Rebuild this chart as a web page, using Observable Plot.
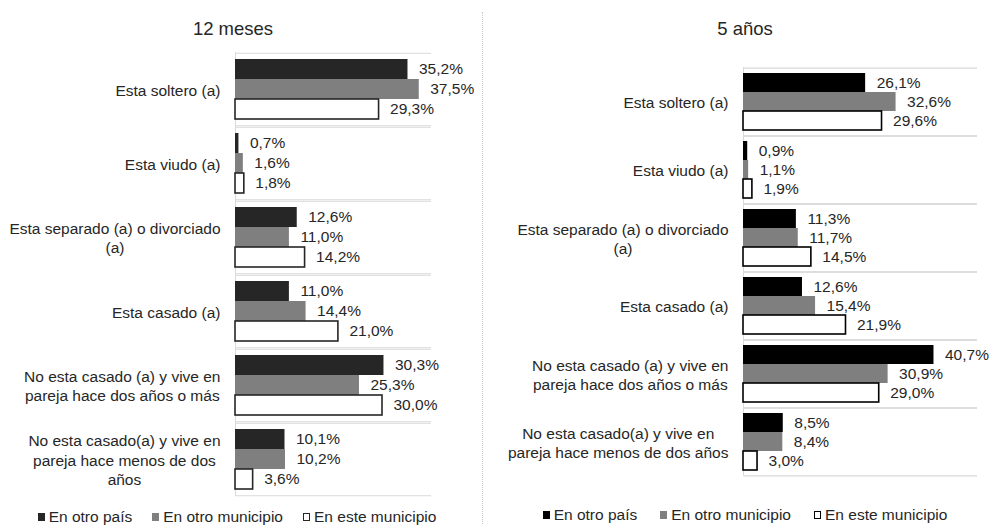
<!DOCTYPE html>
<html>
<head>
<meta charset="utf-8">
<script src="https://cdn.jsdelivr.net/npm/d3@7"></script>
<script src="https://cdn.jsdelivr.net/npm/@observablehq/plot@0.6"></script>
<style>
  html, body { margin: 0; padding: 0; background: #fff; }
  #wrap { position: relative; width: 990px; height: 525px; overflow: hidden; background: #fff;
          font-family: "Liberation Sans", Arial, sans-serif; color: #262626; }
  .title { position: absolute; width: 200px; text-align: center; font-size: 18.5px; line-height: 20px; }
  .panel { position: absolute; top: 0; }
  .legend { position: absolute; display: flex; justify-content: center; font-size: 15.5px; line-height: 17px; white-space: nowrap; }
  .legend .item { display: flex; align-items: center; }
  .legend .sw { display: inline-block; width: 7px; height: 8px; margin-right: 4px; box-sizing: border-box; }
  #divider { position: absolute; left: 482px; top: 12px; height: 520px; border-left: 1px dotted #c8c8c8; }
</style>
</head>
<body>
<div id="wrap">
  <div class="title" style="left:133px; top:19px;">12 meses</div>
  <div class="title" style="left:645px; top:19px;">5 años</div>
  <div id="divider"></div>
  <div class="panel" id="left" style="left:0px;"></div>
  <div class="panel" id="right" style="left:495px;"></div>
  <div class="legend" id="legLeft" style="left:0px; width:474px; top:508px; gap:20px;"></div>
  <div class="legend" id="legRight" style="left:495px; width:500px; top:506px; gap:23px;"></div>
</div>
<script>
// ---- data ----
const series = ["En otro país", "En otro municipio", "En este municipio"];
const categories = [
  "Esta soltero (a)",
  "Esta viudo (a)",
  "Esta separado (a) o divorciado (a)",
  "Esta casado (a)",
  "No esta casado (a) y vive en pareja hace dos años o más",
  "No esta casado(a) y vive en pareja hace menos de dos años"
];
const labels12 = [
  "Esta soltero (a)",
  "Esta viudo (a)",
  "Esta separado (a) o divorciado\n(a)",
  "Esta casado (a)",
  "No esta casado (a) y vive en\npareja hace dos años o más",
  "No esta casado(a) y vive en\npareja hace menos de dos\naños"
];
const labels5 = [
  "Esta soltero (a)",
  "Esta viudo (a)",
  "Esta separado (a) o divorciado\n(a)",
  "Esta casado (a)",
  "No esta casado (a) y vive en\npareja hace dos años o más",
  "No esta casado(a) y vive en\npareja hace menos de dos años"
];
// 12 meses
const otroPais12 = [35.2, 0.7, 12.6, 11.0, 30.3, 10.1];
const otroMunicipio12 = [37.5, 1.6, 11.0, 14.4, 25.3, 10.2];
const esteMunicipio12 = [29.3, 1.8, 14.2, 21.0, 30.0, 3.6];
// 5 años
const otroPais5 = [26.1, 0.9, 11.3, 12.6, 40.7, 8.5];
const otroMunicipio5 = [32.6, 1.1, 11.7, 15.4, 30.9, 8.4];
const esteMunicipio5 = [29.6, 1.9, 14.5, 21.9, 29.0, 3.0];

function toRows(vals) {
  const rows = [];
  categories.forEach((c, i) => {
    series.forEach((s, k) => rows.push({cat: c, serie: s, value: vals[k][i]}));
  });
  return rows;
}
const rows12 = toRows([otroPais12, otroMunicipio12, esteMunicipio12]);
const rows5 = toRows([otroPais5, otroMunicipio5, esteMunicipio5]);

const fmt = v => v.toFixed(1).replace(".", ",") + "%";

function panel({rows, labels, colors, edge, xMax, width, height, mt, mb, ml, mr}) {
  const p = 0.27;
  const step = (height - mt - mb) / categories.length;
  const bw = step / (3 + 2 * p);
  const off = bw / 2 + p * bw;
  return Plot.plot({
    width, height,
    marginTop: mt, marginBottom: mb, marginLeft: ml, marginRight: mr,
    style: {fontFamily: "'Liberation Sans', Arial, sans-serif", fontSize: "15.5px", color: "#262626", background: "transparent", overflow: "visible"},
    x: {domain: [0, xMax], axis: null},
    y: {domain: series, axis: null, paddingInner: 0, paddingOuter: p},
    fy: {domain: categories, axis: null, padding: 0},
    color: {domain: series, range: colors},
    facet: {data: rows, y: "cat"},
    marks: [
      Plot.ruleX([0], {stroke: "#d9d9d9", strokeWidth: 1}),
      Plot.ruleY([series[0]], {y: d => d, dy: -off, stroke: "#d9d9d9", strokeWidth: 1.2}),
      Plot.ruleY([series[2]], {y: d => d, dy: off, stroke: "#d9d9d9", strokeWidth: 1.2}),
      Plot.barX(rows, {x: "value", y: "serie", fill: "serie"}),
      Plot.barX(rows, {filter: d => d.serie === series[2], x: "value", y: "serie", fill: "none", stroke: edge, strokeWidth: 1.6}),
      Plot.text(rows, {x: "value", y: "serie", text: d => fmt(d.value), textAnchor: "start", dx: 11, fill: "#262626", fontSize: 15.5}),
      Plot.text(rows, {filter: d => d.serie === series[1], y: "serie", frameAnchor: "left",
        text: d => labels[categories.indexOf(d.cat)], textAnchor: "end", dx: -15, lineHeight: 1.25,
        fill: "#262626", fontSize: 15.5, ariaDescription: "catlabels"})
    ]
  });
}

function centerLines(svg) {
  svg.querySelectorAll('g[aria-description="catlabels"] text').forEach(t => {
    const spans = Array.from(t.querySelectorAll("tspan"));
    if (spans.length < 2) return;
    const w = spans.map(s => s.getComputedTextLength());
    const maxW = Math.max(...w);
    t.setAttribute("text-anchor", "middle");
    spans.forEach(s => s.setAttribute("x", -maxW / 2));
  });
}

const left = panel({rows: rows12, labels: labels12, colors: ["#262626", "#7f7f7f", "#ffffff"], edge: "#262626",
  xMax: 40, width: 481, height: 525, mt: 50, mb: 27, ml: 235, mr: 50});
document.getElementById("left").appendChild(left);
centerLines(left);

const right = panel({rows: rows5, labels: labels5, colors: ["#000000", "#7f7f7f", "#ffffff"], edge: "#000000",
  xMax: 50, width: 495, height: 525, mt: 67, mb: 50, ml: 248, mr: 13});
document.getElementById("right").appendChild(right);
centerLines(right);

function legend(el, colors, edge) {
  series.forEach((s, k) => {
    const it = document.createElement("div");
    it.className = "item";
    const sw = document.createElement("span");
    sw.className = "sw";
    sw.style.background = colors[k];
    if (k === 2) sw.style.border = "1px solid " + edge;
    it.appendChild(sw);
    it.appendChild(document.createTextNode(s));
    el.appendChild(it);
  });
}
legend(document.getElementById("legLeft"), ["#262626", "#7f7f7f", "#ffffff"], "#262626");
legend(document.getElementById("legRight"), ["#000000", "#7f7f7f", "#ffffff"], "#000000");
</script>
</body>
</html>
